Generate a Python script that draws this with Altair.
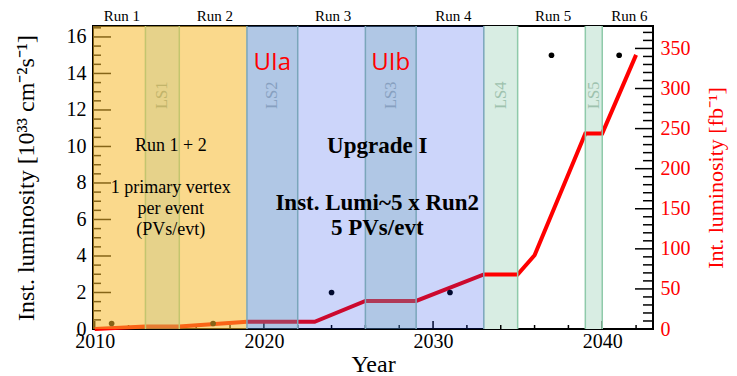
import altair as alt
import pandas as pd

# ---------------- data ----------------
dot_year = [2011, 2017, 2024, 2031, 2037, 2041]
dot_inst = [0.3, 0.3, 2.0, 2.0, 15.0, 15.0]

line_year = [2010, 2013, 2015, 2019, 2023, 2026, 2029, 2033, 2035, 2036, 2039, 2040, 2042]
line_int = [0, 3, 3, 9, 9, 35, 35, 68, 68, 92, 244, 244, 342]

run_names = ["Run 1", "Run 2", "Run 3", "Run 4", "Run 5", "Run 6"]
run_label_year = [2011.6, 2017.1, 2024.1, 2031.2, 2037.1, 2041.6]

ls_names = ["LS1", "LS2", "LS3", "LS4", "LS5"]
ls_start = [2013, 2019, 2026, 2033, 2039]
ls_end = [2015, 2022, 2029, 2035, 2040]
ls_label_year = [2014, 2020.5, 2027.5, 2034, 2039.5]
ls_label_y = 12.8

era_start = [2009.9, 2019]
era_end = [2019, 2033]

x_major = [2010, 2020, 2030, 2040]
x_minor = [2012, 2014, 2016, 2018, 2022, 2024, 2026, 2028, 2032, 2034, 2036, 2038, 2042]
l_major = [0, 2, 4, 6, 8, 10, 12, 14, 16]
l_minor = [v / 2 for v in range(1, 34) if v % 4 != 0]
r_major = [0, 50, 100, 150, 200, 250, 300, 350]
r_minor = [v for v in range(10, 380, 10) if v % 50 != 0]

note_text = ["Run 1 + 2", "1 primary vertex", "per event", "(PVs/evt)"]
note_x = [2014.5, 2014.5, 2014.5, 2014.5]
note_y = [10.0, 7.7, 6.55, 5.45]

up_text = ["Upgrade I", "Inst. Lumi~5 x Run2", "5 PVs/evt"]
up_x = [2026.7, 2026.7, 2026.7]
up_y = [10.05, 6.9, 5.55]

ui_text = ["UIa", "UIb"]
ui_x = [2020.5, 2027.5]
ui_y = [14.6, 14.6]

W, H = 560, 303
SERIF = "Liberation Serif"

xscale = alt.Scale(domain=[2009.9, 2043], nice=False, zero=False)
lscale = alt.Scale(domain=[0, 16.6], nice=False, zero=False)
rscale = alt.Scale(domain=[0, 378], nice=False, zero=False)

xaxis = alt.Axis(values=x_major, ticks=False, domain=False, grid=False, format="d",
                 labelFont=SERIF, labelFontSize=20, labelColor="black", labelPadding=2,
                 labelFlush=False, title="Year", titleFont=SERIF, titleFontSize=24,
                 titleFontWeight="normal", titleColor="black", titlePadding=1, zindex=1)


def X(f="x"):
    return alt.X(f + ":Q", scale=xscale, axis=xaxis)


def YL(f="y"):
    return alt.Y(f + ":Q", scale=lscale, axis=None)


def YR(f="y"):
    return alt.Y(f + ":Q", scale=rscale, axis=None)


layers = []

# green long shutdown bands (under the line)
green = pd.DataFrame({"x": ls_start[3:], "x2": ls_end[3:]})
layers.append(alt.Chart(green).mark_rect(color="#D8EDE3").encode(x=X(), x2="x2:Q"))

# ticks (drawn under translucent overlays)
tx_maj = pd.DataFrame({"x": x_major})
tx_min = pd.DataFrame({"x": x_minor})
layers.append(alt.Chart(tx_maj).mark_rule(color="black", strokeWidth=1.5).encode(
    x=X(), y=alt.value(H), y2=alt.value(H - 8)))
layers.append(alt.Chart(tx_min).mark_rule(color="black", strokeWidth=1.5).encode(
    x=X(), y=alt.value(H), y2=alt.value(H - 4)))
tl_maj = pd.DataFrame({"y": l_major})
tl_min = pd.DataFrame({"y": l_minor})
layers.append(alt.Chart(tl_maj).mark_rule(color="black", strokeWidth=1.5).encode(
    y=YL(), x=alt.value(0), x2=alt.value(18)))
layers.append(alt.Chart(tl_min).mark_rule(color="black", strokeWidth=1.5).encode(
    y=YL(), x=alt.value(0), x2=alt.value(8)))
tr_maj = pd.DataFrame({"y": r_major})
tr_min = pd.DataFrame({"y": r_minor})
layers.append(alt.Chart(tr_maj).mark_rule(color="black", strokeWidth=1.5).encode(
    y=YR(), x=alt.value(W), x2=alt.value(W - 18)))
layers.append(alt.Chart(tr_min).mark_rule(color="black", strokeWidth=1.5).encode(
    y=YR(), x=alt.value(W), x2=alt.value(W - 10)))

# integrated luminosity line (right axis)
line_df = pd.DataFrame({"x": line_year, "y": line_int})
layers.append(alt.Chart(line_df).mark_line(color="#FF0000", strokeWidth=4, strokeJoin="miter").encode(
    x=X(), y=alt.Y("y:Q", scale=rscale,
                   axis=alt.Axis(orient="right", values=r_major, ticks=False, domain=False, grid=False,
                                 labelFont=SERIF, labelFontSize=20, labelColor="#FF0000", labelPadding=7,
                                 title="Int. luminosity [fb⁻¹]", titleFont=SERIF, titleFontSize=22,
                                 titleFontWeight="normal", titleColor="#FF0000", titlePadding=15,
                                 titleAngle=270, titleBaseline="top", zindex=1))))

# instantaneous luminosity points (left axis)
dots = pd.DataFrame({"x": dot_year, "y": dot_inst})
layers.append(alt.Chart(dots).mark_circle(color="black", size=32, opacity=1).encode(
    x=X(), y=alt.Y("y:Q", scale=lscale,
                   axis=alt.Axis(orient="left", values=l_major, ticks=False, domain=False, grid=False,
                                 labelFont=SERIF, labelFontSize=20, labelColor="black", labelPadding=7,
                                 title="Inst. luminosity [10³³ cm⁻²s⁻¹]", titleFont=SERIF,
                                 titleFontSize=24, titleFontWeight="normal", titleColor="black",
                                 titlePadding=28, zindex=1))))

# translucent era overlays
orange = pd.DataFrame({"x": era_start[:1], "x2": era_end[:1]})
layers.append(alt.Chart(orange).mark_rect(color="rgb(246,185,43)", opacity=0.54).encode(x=X(), x2="x2:Q"))
ls1 = pd.DataFrame({"x": ls_start[:1], "x2": ls_end[:1]})
layers.append(alt.Chart(ls1).mark_rect(color="rgb(170,190,130)", opacity=0.25).encode(x=X(), x2="x2:Q"))
blue = pd.DataFrame({"x": era_start[1:], "x2": era_end[1:]})
layers.append(alt.Chart(blue).mark_rect(color="rgb(0,45,230)", opacity=0.2).encode(x=X(), x2="x2:Q"))
ls23 = pd.DataFrame({"x": ls_start[1:3], "x2": ls_end[1:3]})
layers.append(alt.Chart(ls23).mark_rect(color="rgb(111,170,183)", opacity=0.3).encode(x=X(), x2="x2:Q"))

# band borders
b_olive = pd.DataFrame({"x": [ls_start[0], ls_end[0]]})
b_teal = pd.DataFrame({"x": [ls_start[1], ls_end[1], ls_start[2], ls_end[2], ls_start[3]]})
b_green = pd.DataFrame({"x": [ls_end[3], ls_start[4], ls_end[4]]})
layers.append(alt.Chart(b_olive).mark_rule(color="#C3C56E", strokeWidth=1.5).encode(x=X()))
layers.append(alt.Chart(b_teal).mark_rule(color="#7AA6BA", strokeWidth=1.5).encode(x=X()))
layers.append(alt.Chart(b_green).mark_rule(color="#8FCAAA", strokeWidth=1.5).encode(x=X()))

# LS labels
ls_df = pd.DataFrame({"x": ls_label_year, "y": [ls_label_y] * 5, "t": ls_names,
                      "c": ["#C2B46A", "#87A0C0", "#87A0C0", "#9EC2AE", "#9EC2AE"]})
layers.append(alt.Chart(ls_df).mark_text(font=SERIF, fontSize=16.5, angle=270).encode(
    x=X(), y=YL(), text="t:N", color=alt.Color("c:N", scale=None)))

# run labels on top
run_df = pd.DataFrame({"x": run_label_year, "t": run_names})
layers.append(alt.Chart(run_df).mark_text(font=SERIF, fontSize=15, color="black", baseline="middle").encode(
    x=X(), y=alt.value(-10), text="t:N"))

# annotations
note_df = pd.DataFrame({"x": note_x, "y": note_y, "t": note_text})
layers.append(alt.Chart(note_df).mark_text(font=SERIF, fontSize=18, color="black").encode(
    x=X(), y=YL(), text="t:N"))
up_df = pd.DataFrame({"x": up_x, "y": up_y, "t": up_text})
layers.append(alt.Chart(up_df).mark_text(font=SERIF, fontSize=23, fontWeight="bold", color="black").encode(
    x=X(), y=YL(), text="t:N"))
ui_df = pd.DataFrame({"x": ui_x, "y": ui_y, "t": ui_text})
layers.append(alt.Chart(ui_df).mark_text(font="Open Sans", fontSize=24, color="#FF0000").encode(
    x=X(), y=YL(), text="t:N"))

chart = alt.layer(*layers).resolve_scale(y="independent").properties(
    width=W, height=H,
    autosize=alt.AutoSizeParams(type="none"),
    padding={"left": 85, "top": 18, "right": 76, "bottom": 48},
    background="white",
).configure_view(stroke="black", strokeWidth=2).configure_axis(
    labelFont=SERIF, titleFont=SERIF
)

chart.save("out.html", embed_options={"renderer": "svg", "actions": False})
